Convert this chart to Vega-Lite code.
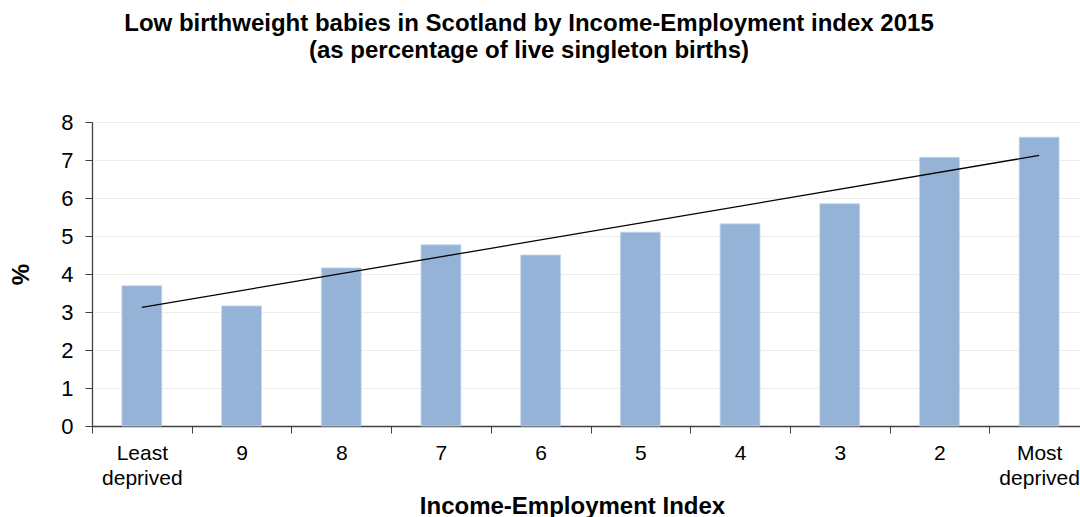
{
  "$schema": "https://vega.github.io/schema/vega-lite/v6.json",
  "width": 988,
  "height": 304,
  "autosize": {"type": "none"},
  "padding": {"left": 92, "top": 122, "right": 0, "bottom": 91},
  "background": "white",
  "config": {"font": "Liberation Sans", "view": {"stroke": null}},
  "title": {
    "text": ["Low birthweight babies in Scotland by Income-Employment index 2015", "(as percentage of live singleton births)"],
    "font": "Liberation Sans",
    "fontSize": 24,
    "fontWeight": "bold",
    "color": "#000000",
    "anchor": "middle",
    "frame": "group",
    "dx": -57,
    "offset": 48,
    "lineHeight": 27
  },
  "datasets": {
    "bars": [
      {"index": "Least deprived", "pct": 3.69},
      {"index": "9", "pct": 3.16},
      {"index": "8", "pct": 4.16},
      {"index": "7", "pct": 4.77},
      {"index": "6", "pct": 4.5},
      {"index": "5", "pct": 5.1},
      {"index": "4", "pct": 5.32},
      {"index": "3", "pct": 5.85},
      {"index": "2", "pct": 7.07},
      {"index": "Most deprived", "pct": 7.6}
    ],
    "trend": [
      {"index": "Least deprived", "pct": 3.12},
      {"index": "Most deprived", "pct": 7.12}
    ]
  },
  "encoding": {
    "x": {
      "field": "index",
      "type": "nominal",
      "sort": null,
      "scale": {
        "domain": ["Least deprived", "9", "8", "7", "6", "5", "4", "3", "2", "Most deprived"],
        "range": [0, 997],
        "paddingInner": 0,
        "paddingOuter": 0
      },
      "axis": {
        "title": "Income-Employment Index",
        "titleFontSize": 24,
        "titleFontWeight": "bold",
        "titleColor": "#000000",
        "titleX": 480,
        "titleY": 87,
        "titleAlign": "center",
        "titleBaseline": "alphabetic",
        "labelAngle": 0,
        "labelFontSize": 21,
        "labelColor": "#000000",
        "labelLineHeight": 25,
        "labelPadding": 9,
        "labelOverlap": false,
        "labelExpr": "split(datum.label, ' ')",
        "tickBand": "extent",
        "tickSize": 7,
        "tickColor": "#404040",
        "domainColor": "#404040",
        "domainWidth": 1.3,
        "grid": false
      }
    },
    "y": {
      "field": "pct",
      "type": "quantitative",
      "scale": {"domain": [0, 8], "nice": false},
      "axis": {
        "title": "%",
        "titleFontSize": 24,
        "titleFontWeight": "bold",
        "titleColor": "#000000",
        "titlePadding": 27,
        "values": [0, 1, 2, 3, 4, 5, 6, 7, 8],
        "labelOverlap": false,
        "labelFontSize": 22,
        "labelColor": "#000000",
        "labelPadding": 12,
        "tickSize": 7,
        "tickColor": "#404040",
        "domainColor": "#404040",
        "domainWidth": 1.3,
        "grid": true,
        "gridColor": "#ededed",
        "gridWidth": 1
      }
    }
  },
  "layer": [
    {
      "data": {"name": "bars"},
      "mark": {"type": "bar", "width": {"band": 0.4}, "color": "#95b3d7", "stroke": "#c6d6ea", "strokeWidth": 0.8}
    },
    {
      "data": {"name": "trend"},
      "mark": {"type": "line", "color": "#000000", "strokeWidth": 1.3}
    }
  ]
}
